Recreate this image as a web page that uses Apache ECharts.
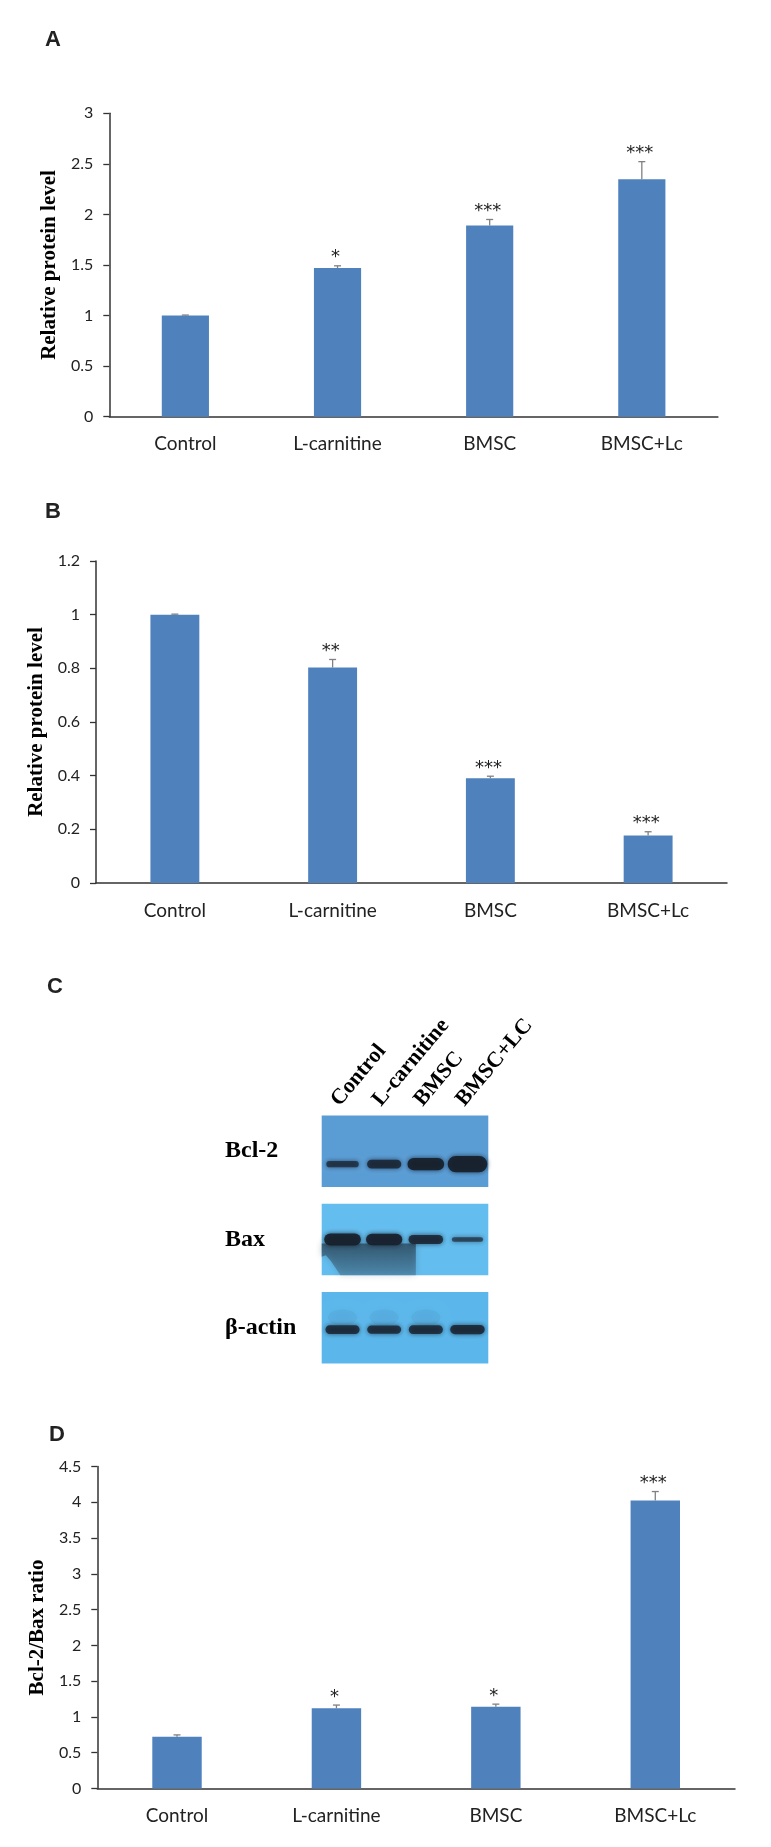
<!DOCTYPE html>
<html>
<head>
<meta charset="utf-8">
<script src="https://cdn.jsdelivr.net/npm/echarts@6/dist/echarts.min.js"></script>
<style>
  html, body { margin: 0; padding: 0; background: #fff; }
  #main { width: 771px; height: 1847px; }
</style>
</head>
<body>
<div id="main"></div>
<script>
// groups on the bar charts
const groups = ['Control', 'L-carnitine', 'BMSC', 'BMSC+Lc'];

// A: relative protein level (mean, SEM, significance)
const aMean = [1.0, 1.47, 1.89, 2.347];
const aErr = [0.005, 0.022, 0.06, 0.175];
const aStars = ['', '*', '***', '***'];
const aTicks = [0, 0.5, 1, 1.5, 2, 2.5, 3];

// B: relative protein level
const bMean = [1.0, 0.803, 0.39, 0.177];
const bErr = [0.002, 0.03, 0.008, 0.014];
const bStars = ['', '**', '***', '***'];
const bTicks = [0, 0.2, 0.4, 0.6, 0.8, 1, 1.2];

// D: Bcl-2/Bax ratio
const dMean = [0.724, 1.121, 1.144, 4.025];
const dErr = [0.025, 0.045, 0.035, 0.125];
const dStars = ['', '*', '*', '***'];
const dTicks = [0, 0.5, 1, 1.5, 2, 2.5, 3, 3.5, 4, 4.5];

// C: western blot, relative band strength per lane
const lanes = ['Control', 'L-carnitine', 'BMSC', 'BMSC+LC'];
const blotRows = ['Bcl-2', 'Bax', '\u03b2-actin'];
const bcl2Band = [0.6, 0.8, 1.1, 1.45];
const baxBand = [1.1, 1.05, 0.85, 0.45];
const actinBand = [0.8, 0.78, 0.8, 0.85];

const sans = 'Lato';
const serif = 'Liberation Serif';
const axisColor = '#333333';

// look of each membrane strip (not data)
const blotLook = [
  { fill: '#5a9dd5', shift: 0.147 },
  { fill: '#63bdee', shift: 0.0, smear: true },
  { fill: '#5bb7eb', shift: 0.02, haze: true }
];

function errorRender(stars) {
  return function (params, api) {
    const x = api.value(0);
    const base = api.coord([x, api.value(1)]);
    const top = api.coord([x, api.value(1) + api.value(2)]);
    const line = { stroke: '#808080', lineWidth: 1.3 };
    const kids = [
      { type: 'line', shape: { x1: top[0], y1: top[1], x2: base[0], y2: base[1] }, style: line },
      { type: 'line', shape: { x1: top[0] - 3.5, y1: top[1], x2: top[0] + 3.5, y2: top[1] }, style: line }
    ];
    const s = stars[params.dataIndex];
    if (s) {
      kids.push({
        type: 'text', x: top[0] - 2, y: top[1] + 1,
        style: {
          text: s, fill: '#222', font: '18px DejaVu Sans',
          align: 'center', verticalAlign: 'bottom',
          textAlign: 'center', textVerticalAlign: 'bottom'
        }
      });
    }
    return { type: 'group', children: kids };
  };
}

function boxRender(params, api) {
  const row = api.value(1);
  const first = api.coord([0, row]);
  const last = api.coord([lanes.length - 1, row]);
  const s = api.size([1, 1]);
  const h = s[1] * 0.81;
  const x0 = first[0] - s[0] / 2;
  const w = last[0] - first[0] + s[0];
  const y0 = first[1] - h / 2;
  const look = blotLook[row];
  const kids = [{ type: 'rect', shape: { x: x0, y: y0, width: w, height: h }, style: { fill: look.fill } }];
  if (look.smear) {
    kids.push({
      type: 'polygon',
      shape: { points: [[x0, first[1] + 4], [x0 + s[0] * 2.26, first[1] + 4], [x0 + s[0] * 2.26, y0 + h],
        [x0 + s[0] * 0.45, y0 + h], [x0 + s[0] * 0.22, y0 + h * 0.8], [x0 + s[0] * 0.1, y0 + h * 0.72], [x0, y0 + h * 0.74]] },
      style: {
        fill: { type: 'linear', x: 0, y: 0, x2: 0, y2: 1, colorStops: [
          { offset: 0, color: 'rgba(30,45,60,0.62)' },
          { offset: 1, color: 'rgba(55,85,105,0.38)' }
        ] },
        shadowBlur: 6, shadowColor: 'rgba(40,60,80,0.5)'
      }
    });
  }
  return { type: 'group', children: kids };
}

function bandRender(params, api) {
  const lane = api.value(0), row = api.value(1), v = api.value(2);
  const p = api.coord([lane, row]);
  const s = api.size([1, 1]);
  const rx = s[0] * (0.33 + 0.1 * v);
  const ry = 6 * v - 0.5;
  const cy = p[1] + s[1] * blotLook[row].shift;
  const kids = [];
  if (blotLook[row].haze && lane < 3) {
    kids.push({
      type: 'ellipse', shape: { cx: p[0], cy: cy - 12, rx: rx * 0.85, ry: 8 },
      style: { fill: 'rgba(40,70,95,0.07)', shadowBlur: 10, shadowColor: 'rgba(40,70,95,0.25)' }
    });
  }
  kids.push({
    type: 'rect',
    shape: { x: p[0] - rx, y: cy - ry, width: rx * 2, height: ry * 2, r: ry },
    style: { fill: '#18202c', opacity: Math.min(0.93, 0.45 + 0.45 * v), shadowBlur: 5, shadowColor: 'rgba(15,25,40,0.8)' }
  });
  return { type: 'group', children: kids };
}

function laneRender(params, api) {
  const i = api.value(0);
  const p = api.coord([i, 0]);
  const s = api.size([1, 1]);
  const boxTop = p[1] - s[1] * 0.81 / 2;
  return {
    type: 'text', x: p[0] + 1, y: boxTop - 5, rotation: 50 * Math.PI / 180,
    style: {
      text: lanes[i], fill: '#000', font: 'bold 22px ' + serif,
      align: 'left', verticalAlign: 'bottom', textAlign: 'left', textVerticalAlign: 'bottom'
    }
  };
}

function valueAxis(idx, ticks, name) {
  return {
    type: 'value', gridIndex: idx,
    min: ticks[0], max: ticks[ticks.length - 1], interval: ticks[1] - ticks[0],
    axisLine: { show: true, lineStyle: { color: axisColor, width: 1.5 } },
    axisTick: { show: true, length: 6, lineStyle: { color: axisColor, width: 1.3 } },
    splitLine: { show: false },
    axisLabel: { fontFamily: sans, fontSize: 16, color: '#222', margin: 16 },
    name: name, nameLocation: 'middle', nameGap: 37, nameRotate: 90,
    nameTextStyle: { fontFamily: serif, fontWeight: 'bold', fontSize: 21, color: '#000' }
  };
}

function catAxis(idx) {
  return {
    type: 'category', gridIndex: idx, data: groups,
    axisLine: { show: true, lineStyle: { color: axisColor, width: 1.5 } },
    axisTick: { show: false },
    axisLabel: { fontFamily: sans, fontSize: 19, color: '#222', margin: 18, interval: 0 }
  };
}

function barSeries(idx, values) {
  return { type: 'bar', xAxisIndex: idx, yAxisIndex: idx, data: values, barWidth: '31%',
    itemStyle: { color: '#4f81bd' }, silent: true };
}

function errSeries(idx, means, errs, stars) {
  return { type: 'custom', xAxisIndex: idx, yAxisIndex: idx, clip: false, silent: true, z: 3,
    data: means.map((m, i) => [i, m, errs[i]]), renderItem: errorRender(stars) };
}

function panelLetter(txt, x, y) {
  return { type: 'text', x: x, y: y,
    style: { text: txt, font: 'bold 22px Liberation Sans', fill: '#222', verticalAlign: 'middle' } };
}

const bandData = [];
[bcl2Band, baxBand, actinBand].forEach((arr, row) => {
  arr.forEach((v, lane) => bandData.push([lane, row, v]));
});

const chart = echarts.init(document.getElementById('main'));
chart.setOption({
  animation: false,
  backgroundColor: '#fff',
  graphic: [
    panelLetter('A', 45, 40),
    panelLetter('B', 45, 512),
    panelLetter('C', 47, 987),
    panelLetter('D', 49, 1435)
  ],
  grid: [
    { left: 109.3, top: 113.3, width: 608.6, height: 303.4, outerBoundsMode: 'none' },
    { left: 96, top: 561, width: 631, height: 322, outerBoundsMode: 'none' },
    { left: 321.7, top: 1107, width: 166.6, height: 265, outerBoundsMode: 'none' },
    { left: 97.3, top: 1466.5, width: 637.7, height: 322, outerBoundsMode: 'none' }
  ],
  xAxis: [
    catAxis(0),
    catAxis(1),
    {
      type: 'category', gridIndex: 2, data: lanes, position: 'top',
      axisLine: { show: false }, axisTick: { show: false }, axisLabel: { show: false }
    },
    catAxis(3)
  ],
  yAxis: [
    valueAxis(0, aTicks, 'Relative protein level'),
    valueAxis(1, bTicks, 'Relative protein level'),
    {
      type: 'category', gridIndex: 2, data: blotRows, inverse: true,
      axisLine: { show: false }, axisTick: { show: false },
      axisLabel: { align: 'left', margin: 96.7, fontFamily: serif, fontWeight: 'bold', fontSize: 24, color: '#000' }
    },
    valueAxis(3, dTicks, 'Bcl-2/Bax ratio')
  ],
  series: [
    barSeries(0, aMean),
    errSeries(0, aMean, aErr, aStars),
    barSeries(1, bMean),
    errSeries(1, bMean, bErr, bStars),
    { type: 'custom', xAxisIndex: 2, yAxisIndex: 2, silent: true, clip: false,
      data: blotRows.map((r, i) => [0, i]), renderItem: boxRender },
    { type: 'custom', xAxisIndex: 2, yAxisIndex: 2, silent: true, clip: false, z: 3,
      data: bandData, renderItem: bandRender },
    { type: 'custom', xAxisIndex: 2, yAxisIndex: 2, silent: true, clip: false, z: 4,
      data: lanes.map((l, i) => [i, 0]), renderItem: laneRender },
    barSeries(3, dMean),
    errSeries(3, dMean, dErr, dStars)
  ]
});
</script>
</body>
</html>
